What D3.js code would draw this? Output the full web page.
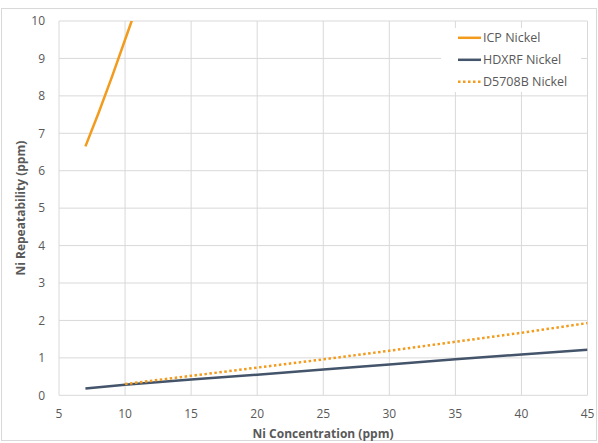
<!DOCTYPE html>
<html>
<head>
<meta charset="utf-8">
<script src="https://cdn.jsdelivr.net/npm/d3@7"></script>
<style>
  body { margin: 0; background: #fff; }
  text { font-family: "Open Sans", sans-serif; fill: #595959; }
</style>
</head>
<body>
<svg id="chart" width="598" height="443"></svg>
<script>
// values
var xTicks = [5, 10, 15, 20, 25, 30, 35, 40, 45];
var yTicks = [0, 1, 2, 3, 4, 5, 6, 7, 8, 9, 10];

var icpX = [7, 8, 9, 10, 10.5, 11];
var icpY = [6.65, 7.55, 8.5, 9.5, 10.0, 10.5];

var hdxrfX = [7, 10, 15, 20, 25, 30, 35, 40, 45];
var hdxrfY = [0.18, 0.28, 0.42, 0.55, 0.69, 0.82, 0.96, 1.09, 1.22];

var astmX = [10, 15, 20, 25, 30, 35, 40, 45];
var astmY = [0.30, 0.52, 0.74, 0.96, 1.19, 1.43, 1.67, 1.93];

var seriesNames = ["ICP Nickel", "HDXRF Nickel", "D5708B Nickel"];

var orange = "#F29B1D", navy = "#44546A", grid = "#D9D9D9";

var svg = d3.select("#chart");
var width = +svg.attr("width");
var height = +svg.attr("height");

// outer chart border
svg.append("rect")
  .attr("x", 1.5).attr("y", 8.5)
  .attr("width", width - 3).attr("height", height - 11)
  .attr("fill", "#fff").attr("stroke", grid);

var pLeft = 59, pRight = 587.5, pTop = 21, pBottom = 395.3;

var x = d3.scaleLinear().domain([5, 45]).range([pLeft, pRight]);
var y = d3.scaleLinear().domain([0, 10]).range([pBottom, pTop]);

// gridlines
svg.append("g").selectAll("line").data(yTicks).enter().append("line")
  .attr("x1", pLeft).attr("x2", pRight)
  .attr("y1", function(d){ return y(d); })
  .attr("y2", function(d){ return y(d); })
  .attr("stroke", grid);

svg.append("g").selectAll("line").data(xTicks).enter().append("line")
  .attr("y1", pTop).attr("y2", pBottom)
  .attr("x1", function(d){ return x(d); })
  .attr("x2", function(d){ return x(d); })
  .attr("stroke", grid);

// tick labels
svg.append("g").selectAll("text").data(yTicks).enter().append("text")
  .attr("x", 45).attr("y", function(d){ return y(d) + 4.3; })
  .attr("text-anchor", "end")
  .style("font-size", "12px")
  .text(function(d){ return d; });

svg.append("g").selectAll("text").data(xTicks).enter().append("text")
  .attr("x", function(d){ return x(d); }).attr("y", 418)
  .attr("text-anchor", "middle")
  .style("font-size", "12px")
  .text(function(d){ return d; });

// axis titles
svg.append("text")
  .attr("x", 323).attr("y", 437.5)
  .attr("text-anchor", "middle")
  .style("font-size", "12px").style("font-weight", "bold")
  .text("Ni Concentration (ppm)");

svg.append("text")
  .attr("transform", "translate(25," + ((pTop + pBottom) / 2) + ") rotate(-90)")
  .attr("text-anchor", "middle")
  .style("font-size", "12px").style("font-weight", "bold")
  .text("Ni Repeatability (ppm)");

// clip to plot area
svg.append("clipPath").attr("id", "plot")
  .append("rect").attr("x", pLeft).attr("y", pTop)
  .attr("width", pRight - pLeft).attr("height", pBottom - pTop);

var line = d3.line()
  .x(function(d){ return x(d[0]); })
  .y(function(d){ return y(d[1]); });

var plot = svg.append("g").attr("clip-path", "url(#plot)");

plot.append("path").datum(d3.zip(icpX, icpY))
  .attr("d", line).attr("fill", "none")
  .attr("stroke", orange).attr("stroke-width", 2.5);

plot.append("path").datum(d3.zip(hdxrfX, hdxrfY))
  .attr("d", line).attr("fill", "none")
  .attr("stroke", navy).attr("stroke-width", 2.5);

plot.append("path").datum(d3.zip(astmX, astmY))
  .attr("d", line).attr("fill", "none")
  .attr("stroke", orange).attr("stroke-width", 2.5)
  .attr("stroke-dasharray", "2.5,2.5");

// legend
var legend = svg.append("g");
legend.append("rect")
  .attr("x", 441).attr("y", 28).attr("width", 140).attr("height", 64)
  .attr("fill", "#fff");

var styles = [
  {color: orange, dash: null},
  {color: navy, dash: null},
  {color: orange, dash: "2.5,2.5"}
];

var items = legend.selectAll("g.item").data(seriesNames).enter().append("g")
  .attr("class", "item")
  .attr("transform", function(d, i){ return "translate(458," + (37.8 + i * 22) + ")"; });

items.append("line")
  .attr("x1", 0).attr("x2", 23)
  .attr("stroke", function(d, i){ return styles[i].color; })
  .attr("stroke-width", 2.5)
  .attr("stroke-dasharray", function(d, i){ return styles[i].dash; });

items.append("text")
  .attr("x", 25).attr("y", 4.6)
  .style("font-size", "12.5px")
  .text(function(d){ return d; });
</script>
</body>
</html>
